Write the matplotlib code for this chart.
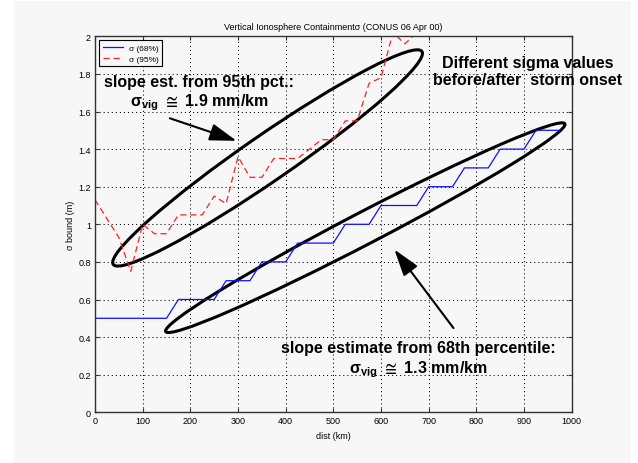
import numpy as np
import matplotlib
matplotlib.use('Agg')
import matplotlib.pyplot as plt
from matplotlib.patches import Ellipse, Rectangle
from matplotlib.transforms import ScaledTranslation

plt.rcParams['font.family'] = ['Liberation Sans', 'DejaVu Sans']
plt.rcParams['mathtext.fontset'] = 'custom'
plt.rcParams['mathtext.rm'] = 'Liberation Sans'
plt.rcParams['mathtext.bf'] = 'Liberation Sans:bold'
plt.rcParams['mathtext.fallback'] = 'stixsans'

# distancias cada 25 km
dist_68 = list(range(0, 1000, 25))
sigma_68 = [0.5, 0.5, 0.5, 0.5, 0.5, 0.5, 0.5,
            0.6, 0.6, 0.6, 0.6,
            0.7, 0.7, 0.7,
            0.8, 0.8, 0.8,
            0.9, 0.9, 0.9, 0.9,
            1.0, 1.0, 1.0,
            1.1, 1.1, 1.1, 1.1,
            1.2, 1.2, 1.2,
            1.3, 1.3, 1.3,
            1.4, 1.4, 1.4,
            1.5, 1.5, 1.5]

dist_95 = list(range(0, 725, 25))
sigma_95 = [1.13, 1.03, 0.93, 0.75, 1.0, 0.95, 0.95, 1.05, 1.05, 1.05,
            1.15, 1.11, 1.36, 1.25, 1.25, 1.35, 1.35, 1.35, 1.40, 1.45,
            1.45, 1.55, 1.55, 1.75, 1.78, 2.02, 1.96, 2.02, 2.12]

fondo = '#f7f7f7'
fig = plt.figure(figsize=(6.38, 4.64), dpi=100)
fig.patch.set_facecolor('white')
fig.patches.append(Rectangle((14/638, 0), 617/638, 462/464, transform=fig.transFigure,
                             facecolor=fondo, edgecolor='none', zorder=-10))

ax = fig.add_axes([95/638, (464-413.3)/464, (571.7-95)/638, (413.3-37.3)/464])
ax.set_facecolor(fondo)

ax.plot(dist_68, sigma_68, color='#1010ff', lw=0.9, label='σ (68%)')
ax.plot(dist_95, sigma_95, color='#ff2020', lw=0.9, linestyle=(0, (5, 3)), label='σ (95%)')

ax.set_xlim(0, 1000)
ax.set_ylim(0, 2)
ax.set_xticks(np.arange(0, 1001, 100))
ax.set_yticks(np.arange(0, 2.01, 0.2))
ax.set_yticklabels(['0', '0.2', '0.4', '0.6', '0.8', '1', '1.2', '1.4', '1.6', '1.8', '2'])
ax.tick_params(direction='in', top=True, right=True, length=3, labelsize=6.5, pad=3,
               color='#333333')
ax.grid(True, linestyle=(0, (1, 2.9)), color='black', lw=0.75)
for s in ax.spines.values():
    s.set_color('#333333')
    s.set_linewidth(1)

ax.set_title('Vertical Ionosphere Containmentσ (CONUS 06 Apr 00)', fontsize=6.5, pad=5)
ax.set_xlabel('dist (km)', fontsize=6.5, labelpad=4)
ax.set_ylabel('σ bound (m)', fontsize=6.5, labelpad=2.5)

leg = ax.legend(loc='upper left', fontsize=6, fancybox=False, framealpha=1,
                facecolor=fondo, edgecolor='black', handlelength=2.5,
                handletextpad=0.7, labelspacing=0.4, borderpad=0.4, borderaxespad=0.5)
leg.get_frame().set_linewidth(0.8)

# elipses: centro en datos, tamaño en pulgadas
elipses = [(362, 1.353, 3.75, 0.46, 34.6), (567, 0.982, 4.5, 0.32, 27.5)]
for cx, cy, w, h, ang in elipses:
    e = Ellipse((0, 0), w, h, angle=ang, fill=False, lw=2.2, ec='black',
                transform=fig.dpi_scale_trans + ScaledTranslation(cx, cy, ax.transData))
    ax.add_patch(e)

flecha = dict(arrowstyle='-|>,head_length=1.1,head_width=0.35', color='black', lw=1.5,
              mutation_scale=15, shrinkA=0, shrinkB=0)
ax.annotate('', xy=(297, 1.444), xytext=(157, 1.564), arrowprops=flecha)
ax.annotate('', xy=(628, 0.866), xytext=(752, 0.448), arrowprops=flecha)

negrita = dict(fontsize=11.5, fontweight='bold', ha='center', va='center')
ax.text(218, 1.757, 'slope est. from 95th pct.:', **negrita)
ax.text(219, 1.65, r'$\mathbf{\sigma_{vig}}$ $\mathbf{\cong}$ 1.9 mm/km', **negrita)
ax.text(908, 1.815, 'Different sigma values\nbefore/after  storm onset', linespacing=1.15,
        **negrita)
ax.text(678, 0.346, 'slope estimate from 68th percentile:', **negrita)
ax.text(678, 0.23, r'$\mathbf{\sigma_{vig}}$ $\mathbf{\cong}$ 1.3 mm/km', **negrita)

fig.savefig('out.png', dpi=100, facecolor=fig.get_facecolor())
